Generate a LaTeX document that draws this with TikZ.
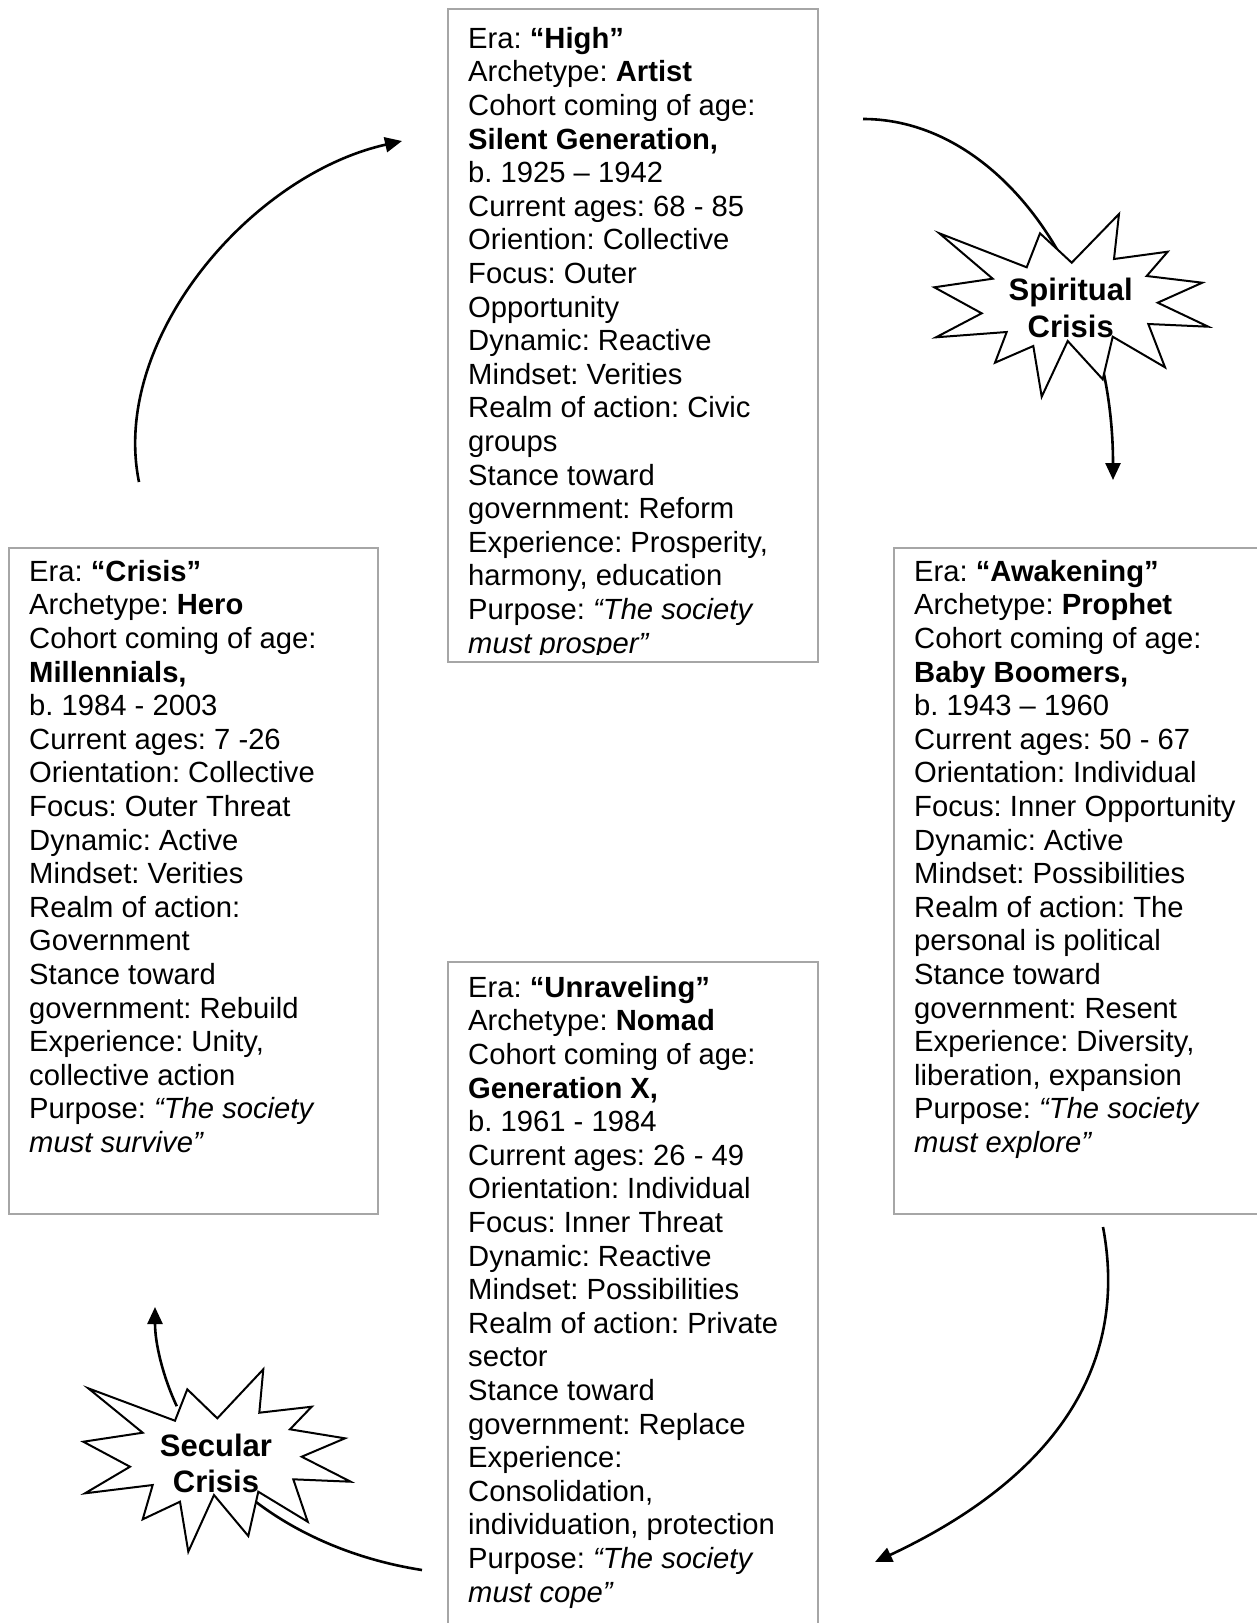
\documentclass[tikz,border=0pt]{standalone}
\usepackage{fontspec}
\setmainfont{Liberation Sans}
\usetikzlibrary{arrows.meta}
\definecolor{boxgray}{RGB}{166,166,166}
\frenchspacing
\begin{document}
\begin{tikzpicture}[x=1pt,y=-1pt,
  frame/.style={draw=boxgray, line width=1.8pt, inner sep=0pt, anchor=north west},
  txt/.style={anchor=north west, inner sep=0pt, align=left,
    font=\fontsize{29.2}{33.6}\selectfont\frenchspacing},
  burst/.style={draw=black, fill=white, line width=2pt, line join=miter},
  blabel/.style={align=center, inner sep=0pt,
    font=\fontsize{31}{36.8}\selectfont\bfseries},
  conn/.style={draw=black, line width=2.6pt},
  arr/.style={conn, -{Triangle[length=17pt,width=15pt]}}]
\fill[white] (0,0) rectangle (1257,1623);
\useasboundingbox (0,0) rectangle (1257,1623);
\newcommand{\fl}{\rule{0pt}{25pt}}

% ---------- boxes ----------
\node[frame, minimum width=370pt, minimum height=653pt] (topbox) at (447,8) {};
\node[frame, minimum width=369pt, minimum height=666pt] (leftbox) at (8,547) {};
\node[frame, minimum width=400pt, minimum height=666pt] (rightbox) at (893,547) {};
\node[frame, minimum width=370pt, minimum height=700pt] (botbox) at (447,961) {};

% ---------- texts ----------
\begin{scope}
\clip (447,8) rectangle (817,654);
\node[txt] (toptext) at (468,23) {\fl Era: \textbf{“High”}\\
Archetype: \textbf{Artist}\\
Cohort coming of age:\\
\textbf{Silent Generation,}\\
b. 1925 – 1942\\
Current ages: 68 - 85\\
Oriention: Collective\\
Focus: Outer\\
Opportunity\\
Dynamic: Reactive\\
Mindset: Verities\\
Realm of action: Civic\\
groups\\
Stance toward\\
government: Reform\\
Experience: Prosperity,\\
harmony, education\\
Purpose: \textit{“The society}\\
\textit{must prosper”}};
\end{scope}

\node[txt] (lefttext) at (29,556) {\fl Era: \textbf{“Crisis”}\\
Archetype: \textbf{Hero}\\
Cohort coming of age:\\
\textbf{Millennials,}\\
b. 1984 - 2003\\
Current ages: 7 -26\\
Orientation: Collective\\
Focus: Outer Threat\\
Dynamic: Active\\
Mindset: Verities\\
Realm of action:\\
Government\\
Stance toward\\
government: Rebuild\\
Experience: Unity,\\
collective action\\
Purpose: \textit{“The society}\\
\textit{must survive”}};

\node[txt] (righttext) at (914,556) {\fl Era: \textbf{“Awakening”}\\
Archetype: \textbf{Prophet}\\
Cohort coming of age:\\
\textbf{Baby Boomers,}\\
b. 1943 – 1960\\
Current ages: 50 - 67\\
Orientation: Individual\\
Focus: Inner Opportunity\\
Dynamic: Active\\
Mindset: Possibilities\\
Realm of action: The\\
personal is political\\
Stance toward\\
government: Resent\\
Experience: Diversity,\\
liberation, expansion\\
Purpose: \textit{“The society}\\
\textit{must explore”}};

\node[txt] (bottext) at (468,972) {\fl Era: \textbf{“Unraveling”}\\
Archetype: \textbf{Nomad}\\
Cohort coming of age:\\
\textbf{Generation X,}\\
b. 1961 - 1984\\
Current ages: 26 - 49\\
Orientation: Individual\\
Focus: Inner Threat\\
Dynamic: Reactive\\
Mindset: Possibilities\\
Realm of action: Private\\
sector\\
Stance toward\\
government: Replace\\
Experience:\\
Consolidation,\\
individuation, protection\\
Purpose: \textit{“The society}\\
\textit{must cope”}};

% ---------- connector end points ----------
\coordinate (tlS) at (139,482);
\coordinate (tlE) at (402,141);
\coordinate (srS) at (863,119);
\coordinate (srE) at (1113,480);
\coordinate (brS) at (1103,1227);
\coordinate (brE) at (875,1562);
\coordinate (blS) at (422,1570);
\coordinate (blM) at (208.1,1455.9);
\coordinate (blN) at (176.8,1406.2);
\coordinate (blE) at (155,1307);

% ---------- connectors ----------
\draw[arr] (tlS) .. controls (110,340) and (250,175) .. (tlE);
\draw[arr] (srS) .. controls (1001,119) and (1113,280.6) .. (srE);
\draw[arr] (brS) .. controls (1130,1370) and (1050,1480) .. (brE);
\draw[conn] (blS) .. controls (336.8,1556.8) and (257.7,1517) .. (blM);
\draw[arr] (blN) .. controls (162.8,1376.4) and (155,1343.25) .. (blE);

% ---------- starbursts ----------
\draw[burst] (939.3,233.3) -- (1026.7,267.3) -- (1040,233.3) -- (1071.7,262.7)
  -- (1119,214) -- (1114,259) -- (1167.7,251.7) -- (1146.7,276)
  -- (1202.3,282.7) -- (1157.7,302.7) -- (1208.3,326.7) -- (1148.3,324)
  -- (1165,367.3) -- (1112.7,336.7) -- (1102.7,379.3) -- (1067.7,341)
  -- (1041.7,396.7) -- (1033.3,346) -- (995,362.7) -- (1006.7,332)
  -- (936,337.3) -- (981.7,313.3) -- (934.3,287.3) -- (992.7,278.7) -- cycle;
\node[blabel] (spiritual) at (1070.7,308) {Spiritual\\Crisis};

\draw[burst] (88.3,1388.3) -- (175,1420.7) -- (187.3,1389.3) -- (217.3,1418.3)
  -- (263.3,1369.3) -- (259.3,1412.7) -- (311.7,1406.7) -- (290,1429.3)
  -- (345,1438.3) -- (301.7,1456.7) -- (350.7,1481.7) -- (293.3,1479.3)
  -- (307.7,1521.7) -- (258.3,1491.7) -- (248.3,1536) -- (214,1495)
  -- (188.3,1551.7) -- (180,1501.7) -- (142.7,1519.3) -- (152.7,1485)
  -- (85,1493.3) -- (130,1466.7) -- (83.3,1441.7) -- (142.7,1432.7) -- cycle;
\node[blabel] (secular) at (216,1463.5) {Secular\\Crisis};
\end{tikzpicture}
\end{document}
